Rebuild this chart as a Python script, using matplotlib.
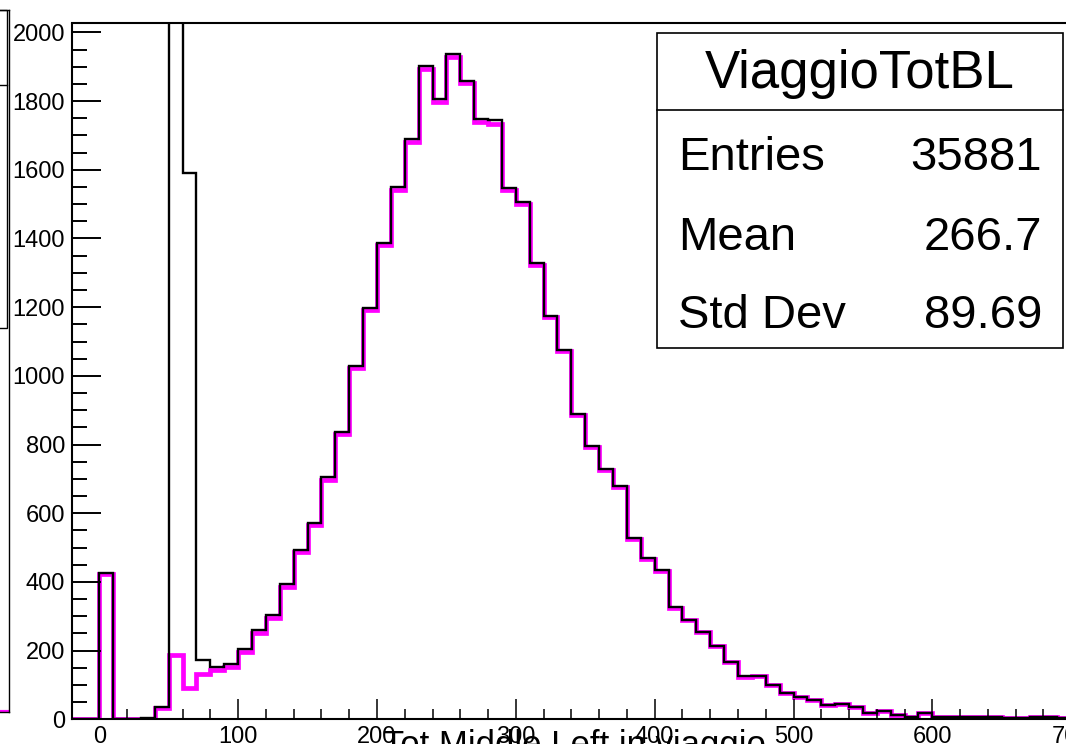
import matplotlib
matplotlib.use("Agg")
import matplotlib.pyplot as plt
from matplotlib import font_manager
from matplotlib.patches import Rectangle
from matplotlib.lines import Line2D
from matplotlib.ticker import MultipleLocator
import numpy as np

# histogram binning (width 10, from -20 to 720)
bin_lo = -20
bin_hi = 720
bin_w = 10

# pink histogram (thick line)
pink_counts = [0, 0, 422, 0, 0, 2, 32, 187, 90, 131,
               143, 152, 197, 250, 294, 384, 486, 565, 698, 830,
               1022, 1192, 1380, 1540, 1680, 1893, 1796, 1928, 1852, 1738,
               1734, 1540, 1500, 1323, 1170, 1071, 885, 792, 726, 676,
               525, 467, 432, 325, 288, 254, 212, 167, 124, 127,
               100, 76, 66, 55, 42, 44, 37, 19, 23, 13,
               8, 17, 8, 7, 6, 7, 8, 4, 3, 6,
               6, 3, 3, 2]

# black histogram (thin line, with the off-scale spike)
black_counts = [0, 0, 425, 0, 1, 3, 35, 2600, 1590, 172,
                153, 161, 206, 260, 303, 393, 493, 571, 705, 836,
                1028, 1197, 1386, 1550, 1690, 1901, 1806, 1936, 1860, 1749,
                1744, 1547, 1506, 1328, 1173, 1074, 888, 795, 728, 678,
                527, 469, 434, 326, 289, 255, 214, 168, 125, 127,
                100, 76, 66, 55, 42, 44, 37, 19, 23, 13,
                8, 17, 8, 7, 6, 7, 8, 4, 3, 6,
                6, 3, 3, 2]

stat_title = "ViaggioTotBL"
stat_names = ["Entries", "Mean", "Std Dev"]
stat_values = ["35881", "266.7", "89.69"]
x_title = "Tot Middle Left in viaggio"

W, H = 1066, 744

names = {f.name for f in font_manager.fontManager.ttflist}
narrow = "Liberation Sans Narrow" if "Liberation Sans Narrow" in names else "Liberation Sans"
plt.rcParams["font.family"] = ["Liberation Sans", "DejaVu Sans"]
stat_size = 37 if narrow != "Liberation Sans" else 34
title_size = 41 if narrow != "Liberation Sans" else 38


def fx(px):
    return px / W


def fy(py):
    return 1 - py / H


fig = plt.figure(figsize=(W / 100, H / 100), dpi=100)
fig.patch.set_facecolor("white")

# main pad
left, right, top, bottom = 71.5, 1099, 23.5, 719.3
ax = fig.add_axes([fx(left), fy(bottom), fx(right - left), (bottom - top) / H])
edges = np.arange(bin_lo, bin_hi + bin_w, bin_w)
ax.stairs(pink_counts, edges, color="#ff00ff", lw=3.4, baseline=None)
ax.stairs(black_counts, edges, color="black", lw=1.7, baseline=None)
ax.set_xlim(bin_lo, bin_hi)
ax.set_ylim(0, 2026)

ax.xaxis.set_major_locator(MultipleLocator(100))
ax.xaxis.set_minor_locator(MultipleLocator(20))
ax.yaxis.set_major_locator(MultipleLocator(200))
ax.yaxis.set_minor_locator(MultipleLocator(50))
ax.tick_params(axis="y", which="major", direction="in", length=21, width=1.4,
               labelsize=17, pad=4.5)
ax.tick_params(axis="y", which="minor", direction="in", length=10.5, width=1.4)
ax.tick_params(axis="x", which="major", direction="in", length=14.4, width=1.1,
               labelsize=17, pad=4.5)
ax.tick_params(axis="x", which="minor", direction="in", length=7.2, width=1.1)
for s in ax.spines.values():
    s.set_linewidth(1.5)

fig.text(fx(574), fy(729), x_title, ha="center", va="top", fontsize=25)

# stats box
bx0, bx1, by0, by1, bsep = 657, 1063, 32.7, 348, 110
fig.patches.append(Rectangle((fx(bx0), fy(by1)), fx(bx1 - bx0), (by1 - by0) / H,
                             transform=fig.transFigure, fill=True, fc="white",
                             ec="black", lw=1.2, zorder=5))
fig.lines.append(Line2D([fx(bx0), fx(bx1)], [fy(bsep), fy(bsep)],
                        transform=fig.transFigure, color="black", lw=1.2, zorder=6))
fig.text(fx(860), fy(88), stat_title, ha="center", va="baseline",
         fontsize=title_size, family=[narrow, "DejaVu Sans"], zorder=7)
for i, (n, v) in enumerate(zip(stat_names, stat_values)):
    yb = [170, 250, 328][i]
    fig.text(fx(678), fy(yb), n, ha="left", va="baseline", fontsize=stat_size,
             family=[narrow, "DejaVu Sans"], zorder=7)
    fig.text(fx(1042), fy(yb), v, ha="right", va="baseline", fontsize=stat_size,
             family=[narrow, "DejaVu Sans"], zorder=7)

# neighbouring pad, only its right edge is visible
ax2 = fig.add_axes([fx(-120), fy(712), fx(129), (712 - 10) / H])
ax2.plot([0, 1], [0, 0], color="#ff00ff", lw=3)
ax2.set_xlim(0, 1)
ax2.set_ylim(0, 1)
ax2.set_xticks([])
ax2.set_yticks([])
for s in ax2.spines.values():
    s.set_linewidth(1.0)
fig.patches.append(Rectangle((fx(-50), fy(328)), fx(57), (328 - 10) / H,
                             transform=fig.transFigure, fill=False,
                             ec="black", lw=1.0))
fig.lines.append(Line2D([fx(-50), fx(7)], [fy(85), fy(85)],
                        transform=fig.transFigure, color="black", lw=1.0))

fig.savefig("out.png", dpi=100)
